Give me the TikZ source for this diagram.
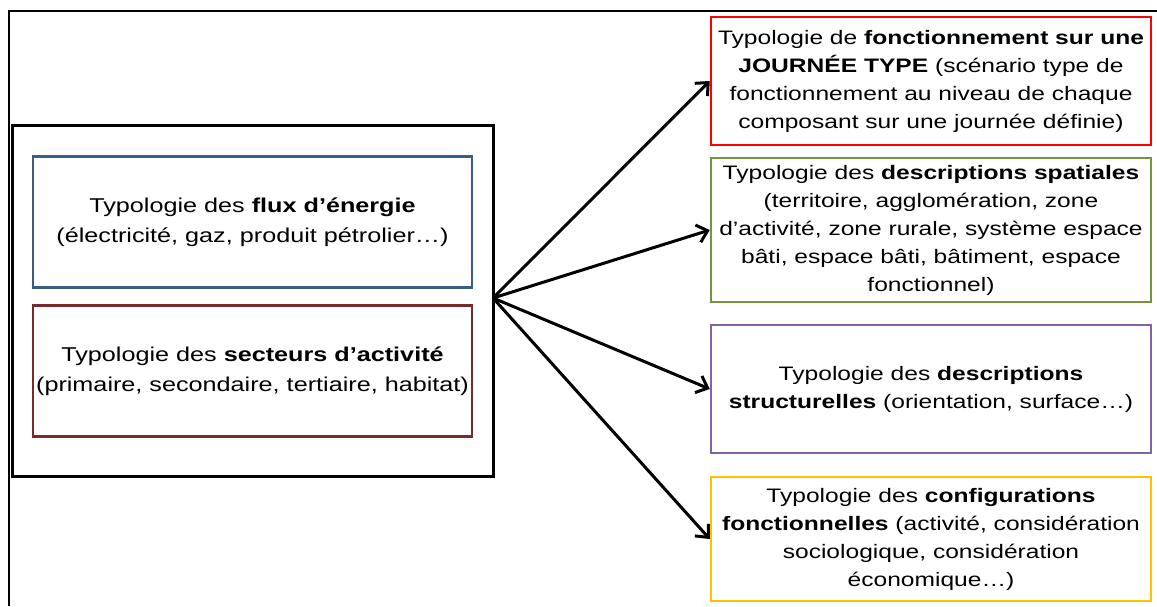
\documentclass[tikz,border=0pt]{standalone}
\usepackage{fontspec}
\setmainfont[FakeStretch=1.26]{Liberation Sans}
\usetikzlibrary{arrows.meta}
\definecolor{cblue}{HTML}{385D8A}
\definecolor{cdred}{HTML}{772C2A}
\definecolor{cred}{HTML}{FF0000}
\definecolor{cgreen}{HTML}{77933C}
\definecolor{cpurple}{HTML}{8064A2}
\definecolor{cyellow}{HTML}{FFC000}
\tikzset{
  tbox/.style={draw=#1, line width=2.5pt, minimum width=440pt, align=center, inner sep=0pt,
    font=\fontsize{19.5}{28}\selectfont},
  lbox/.style={draw=#1, line width=2.5pt, minimum width=439pt, minimum height=131pt, align=center, inner sep=0pt,
    font=\fontsize{20}{30}\selectfont},
  conn/.style={line width=3pt, -{Straight Barb[length=10pt,width=18pt,line width=3pt]}},
}
\begin{document}
\begin{tikzpicture}[x=1pt,y=-1pt]
\useasboundingbox (0,0) rectangle (1157,606);
\coordinate (fa) at (9,606);
\coordinate (fb) at (9,11);
\coordinate (fc) at (1157,11);
\draw[line width=2pt] (fa) -- (fb) -- (fc);
\node[draw=black, line width=3pt, minimum width=481pt, minimum height=351pt] (outer) at (252.5,300.5) {};
\node[lbox=cblue] (flux) at (252.5,222) {Typologie des \textbf{flux d’énergie}\\(électricité, gaz, produit pétrolier…)};
\node[lbox=cdred] (sect) at (252.5,371) {Typologie des \textbf{secteurs d’activité}\\(primaire, secondaire, tertiaire, habitat)};
\node[tbox=cred, minimum height=128pt] (jour) at (931,81) {Typologie de \textbf{fonctionnement sur une}\\\textbf{JOURNÉE TYPE} (scénario type de\\fonctionnement au niveau de chaque\\composant sur une journée définie)};
\node[tbox=cgreen, minimum height=144pt] (spat) at (931,230) {Typologie des \textbf{descriptions spatiales}\\(territoire, agglomération, zone\\d’activité, zone rurale, système espace\\bâti, espace bâti, bâtiment, espace\\fonctionnel)};
\node[tbox=cpurple, minimum height=128pt] (struc) at (931,389) {Typologie des \textbf{descriptions}\\\textbf{structurelles} (orientation, surface…)};
\node[tbox=cyellow, minimum height=124pt] (conf) at (931,539) {Typologie des \textbf{configurations}\\\textbf{fonctionnelles} (activité, considération\\sociologique, considération\\économique…)};
\coordinate (o) at (493,298);
\draw[conn] (o) -- (jour.west);
\draw[conn] (o) -- (spat.west);
\draw[conn] (o) -- (struc.west);
\draw[conn] (o) -- (conf.west);
\end{tikzpicture}
\end{document}
